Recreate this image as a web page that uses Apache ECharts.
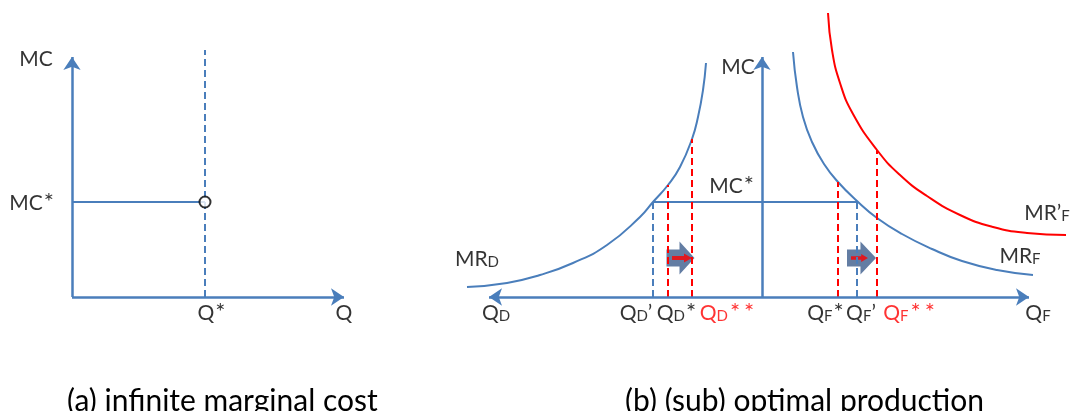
<!DOCTYPE html>
<html>
<head>
<meta charset="utf-8">
<script src="https://cdn.jsdelivr.net/npm/echarts@6/dist/echarts.min.js"></script>
<style>
html,body{margin:0;padding:0;background:#fff;}
#c{width:1073px;height:411px;}
</style>
</head>
<body>
<div id="c"></div>
<script>
// ---------- data (units: value along each axis) ----------
// Panel (a)
const aQMax = 27.2, aMCMax = 24;
const aQStar = 13.3;
const aMCStar = 9.5;
const aDashTop = 24.7;
const aLabels = ['MC', 'MC*', 'Q*', 'Q'];

// Panel (b) – domestic side (Q_D grows to the left)
const bQDMax = 27.3, bQFMax = 26.7, bMCMax = 24;
const bMCStar = 9.5;
const mrD = [[29.5,1.0],[25.5,1.4],[22.2,2.2],[18.9,3.4],[15.5,5.2],[12.2,8.0],[10.9,9.5],[9.4,11.2],[8.2,13.0],[7.0,15.8],[6.4,18.0],[5.9,20.7],[5.6,23.4]];
const qDPrime = 10.9, qDStar = 9.4, qDStar2 = 7.0;
const qDPrimeTop = 9.5, qDStarTop = 11.2, qDStar2Top = 15.8;
const bLeftTickTexts = ['Q_D', 'Q_D’', 'Q_D*', 'Q_D**'];

// Panel (b) – foreign side
const mrF = [[3.1,24.5],[3.5,21.0],[4.1,18.0],[5.0,15.5],[6.2,13.3],[7.6,11.5],[9.5,9.6],[11.5,7.9],[14.0,6.3],[17.0,4.8],[20.0,3.6],[23.5,2.7],[27.1,2.2]];
const mrF2 = [[6.6,28.4],[7.0,24.7],[7.8,21.4],[9.1,18.3],[11.5,14.7],[13.8,12.2],[16.5,10.1],[19.8,8.2],[23.1,7.0],[26.5,6.4],[30.4,6.2]];
const qFStar = 7.6, qFPrime = 9.5, qFStar2 = 11.5;
const qFStarTop = 11.5, qFPrimeTop = 9.6, qFStar2Top = 14.7;
const bRightTickTexts = ['Q_F*', 'Q_F’', 'Q_F**', 'Q_F'];
const curveTexts = ['MR_D', 'MR_F', 'MR’_F', 'MC', 'MC*'];
const shiftArrowD = [8.15, 3.9], shiftArrowDInner = [8.0, 3.9];
const shiftArrowF = [9.95, 3.9], shiftArrowFInner = [9.75, 3.9];
const captions = ['(a) infinite marginal cost', '(b) (sub) optimal production'];

// ---------- styles ----------
const BLUE = '#4a7ebb', RED = '#ff0000', DARK = '#3c5d8c';
const FONT = 'Lato';
const FS = 21, FSS = 15, FSA = 24;

function rt(s, red) {
  const m = red ? 'mr' : 'm', sb = red ? 'sr' : 's', a = red ? 'ar' : 'a';
  let out = '';
  for (let i = 0; i < s.length; i++) {
    if (s[i] === '_') { out += '{' + sb + '|' + s[i + 1] + '}'; i++; }
    else if (s[i] === '*') out += '{' + a + '|*}';
    else out += '{' + m + '|' + s[i] + '}';
  }
  return out;
}
function tok(size, color, extra) {
  return Object.assign({fontSize: size, fontFamily: FONT, color: color, verticalAlign: 'bottom', lineHeight: 24}, extra || {});
}
const rich = {
  m: tok(FS, '#000'), s: tok(FSS, '#000'), a: tok(FSA, '#000', {padding: [0, 1, 0, 1]}),
  mr: tok(FS, RED), sr: tok(FSS, RED), ar: tok(FSA, RED, {padding: [0, 2, 0, 2]})
};
function lbl(value, text, offset, red) {
  return {value: value, label: {show: true, position: 'inside', offset: offset, formatter: rt(text, red), rich: rich}};
}
function textSeries(xi, data) {
  return {type: 'scatter', xAxisIndex: xi, yAxisIndex: xi, symbolSize: 1, z: 10, silent: true,
    itemStyle: {color: 'rgba(0,0,0,0)'}, label: {show: true}, data: data, clip: false};
}
function vline(xi, x, top, color, z) {
  return {type: 'line', xAxisIndex: xi, yAxisIndex: xi, symbol: 'none', z: z || 4, clip: false,
    lineStyle: {color: color, width: 2, type: [7, 4]}, data: [[x, 0], [x, top]]};
}
function curve(xi, data, color) {
  return {type: 'line', xAxisIndex: xi, yAxisIndex: xi, symbol: 'none', smooth: 0.5,
    z: 3, clip: false, lineStyle: {color: color, width: 2}, data: data};
}
function axisArrows(xi, ends) {
  return {type: 'line', xAxisIndex: xi, yAxisIndex: xi, data: [], z: 5,
    markLine: {silent: true, animation: false, symbol: ['none', 'arrow'], symbolSize: 13, label: {show: false},
      lineStyle: {color: BLUE, width: 2.5, type: 'solid'},
      emphasis: {disabled: true},
      data: ends.map(e => [{coord: [0, 0]}, {coord: e}])}};
}
const hidden = {type: 'value', show: false, splitLine: {show: false}};
const BIG = 'path://M0,8 L13,8 L13,0 L28,16.5 L13,33 L13,25 L0,25 Z';
const SMALL = 'path://M0,2.5 L12,2.5 L12,0 L20,4.5 L12,9 L12,6.5 L0,6.5 Z';
const capStyle = {fontFamily: FONT, fontSize: 30, fontWeight: 'normal', color: '#000'};

const option = {
  animation: false,
  title: [
    {text: captions[0], left: 62, top: 381, textStyle: capStyle},
    {text: captions[1], left: 620, top: 381, textStyle: capStyle}
  ],
  grid: [
    {left: 72, top: 7, width: 290, height: 290},
    {left: 440, top: 7, width: 322, height: 290},
    {left: 762, top: 7, width: 311, height: 290}
  ],
  xAxis: [
    Object.assign({}, hidden, {gridIndex: 0, min: 0, max: 29}),
    Object.assign({}, hidden, {gridIndex: 1, min: 0, max: 32.2, inverse: true}),
    Object.assign({}, hidden, {gridIndex: 2, min: 0, max: 31.1})
  ],
  yAxis: [
    Object.assign({}, hidden, {gridIndex: 0, min: 0, max: 29}),
    Object.assign({}, hidden, {gridIndex: 1, min: 0, max: 29}),
    Object.assign({}, hidden, {gridIndex: 2, min: 0, max: 29})
  ],
  series: [
    // panel a
    axisArrows(0, [[aQMax, 0], [0, aMCMax]]),
    vline(0, aQStar, aDashTop, BLUE, 3),
    {type: 'line', xAxisIndex: 0, yAxisIndex: 0, symbol: 'none', z: 3, lineStyle: {color: BLUE, width: 2},
      data: [[0, aMCStar], [aQStar, aMCStar]]},
    {type: 'scatter', xAxisIndex: 0, yAxisIndex: 0, symbol: 'circle', symbolSize: 11, z: 6,
      itemStyle: {color: '#fff', borderColor: '#000', borderWidth: 2}, data: [[aQStar, aMCStar]]},
    textSeries(0, [
      lbl([0, aMCMax], aLabels[0], [-36, 1]),
      lbl([0, aMCStar], aLabels[1], [-40, 0]),
      lbl([aQStar, 0], aLabels[2], [7, 15]),
      lbl([aQMax, 0], aLabels[3], [0, 15])
    ]),
    // panel b axes
    axisArrows(1, [[bQDMax, 0]]),
    axisArrows(2, [[bQFMax, 0], [0, bMCMax]]),
    // block arrows (under lines)
    {type: 'scatter', xAxisIndex: 1, yAxisIndex: 1, symbol: BIG, symbolSize: [28, 33], z: 1,
      itemStyle: {color: DARK}, data: [shiftArrowD]},
    {type: 'scatter', xAxisIndex: 2, yAxisIndex: 2, symbol: BIG, symbolSize: [29, 33], z: 1,
      itemStyle: {color: DARK}, data: [shiftArrowF]},
    {type: 'scatter', xAxisIndex: 1, yAxisIndex: 1, symbol: SMALL, symbolSize: [20, 9], z: 2,
      itemStyle: {color: RED}, data: [shiftArrowDInner]},
    {type: 'scatter', xAxisIndex: 2, yAxisIndex: 2, symbol: SMALL, symbolSize: [17, 8], z: 2,
      itemStyle: {color: RED}, data: [shiftArrowFInner]},
    // curves
    curve(1, mrD, BLUE),
    curve(2, mrF, BLUE),
    curve(2, mrF2, RED),
    // MC* horizontal
    {type: 'line', xAxisIndex: 1, yAxisIndex: 1, symbol: 'none', z: 3, lineStyle: {color: BLUE, width: 2},
      data: [[qDPrime, bMCStar], [0, bMCStar]]},
    {type: 'line', xAxisIndex: 2, yAxisIndex: 2, symbol: 'none', z: 3, lineStyle: {color: BLUE, width: 2},
      data: [[0, bMCStar], [qFPrime, bMCStar]]},
    // drop lines
    vline(1, qDPrime, qDPrimeTop, BLUE),
    vline(1, qDStar, qDStarTop, RED),
    vline(1, qDStar2, qDStar2Top, RED),
    vline(2, qFStar, qFStarTop, RED),
    vline(2, qFPrime, qFPrimeTop, BLUE),
    vline(2, qFStar2, qFStar2Top, RED),
    // texts panel b
    textSeries(1, [
      lbl([bQDMax, 0], bLeftTickTexts[0], [7, 15]),
      lbl([qDPrime, 0], bLeftTickTexts[1], [-17, 15]),
      lbl([qDStar, 0], bLeftTickTexts[2], [9, 15]),
      lbl([qDStar2, 0], bLeftTickTexts[3], [36, 15], true),
      lbl(mrD[0], curveTexts[0], [10, -29]),
      lbl([0, bMCMax], curveTexts[3], [-24, 9]),
      lbl([0, bMCStar], curveTexts[4], [-30, -17])
    ]),
    textSeries(2, [
      lbl([qFStar, 0], bRightTickTexts[0], [-12, 15]),
      lbl([qFPrime, 0], bRightTickTexts[1], [4, 15]),
      lbl([qFStar2, 0], bRightTickTexts[2], [33, 15], true),
      lbl([bQFMax, 0], bRightTickTexts[3], [9, 15]),
      lbl(mrF[mrF.length - 1], curveTexts[1], [-13, -20]),
      lbl(mrF2[mrF2.length - 1], curveTexts[2], [-19, -23])
    ])
  ]
};
const chart = echarts.init(document.getElementById('c'), null, {renderer: 'canvas'});
chart.setOption(option);
</script>
</body>
</html>
